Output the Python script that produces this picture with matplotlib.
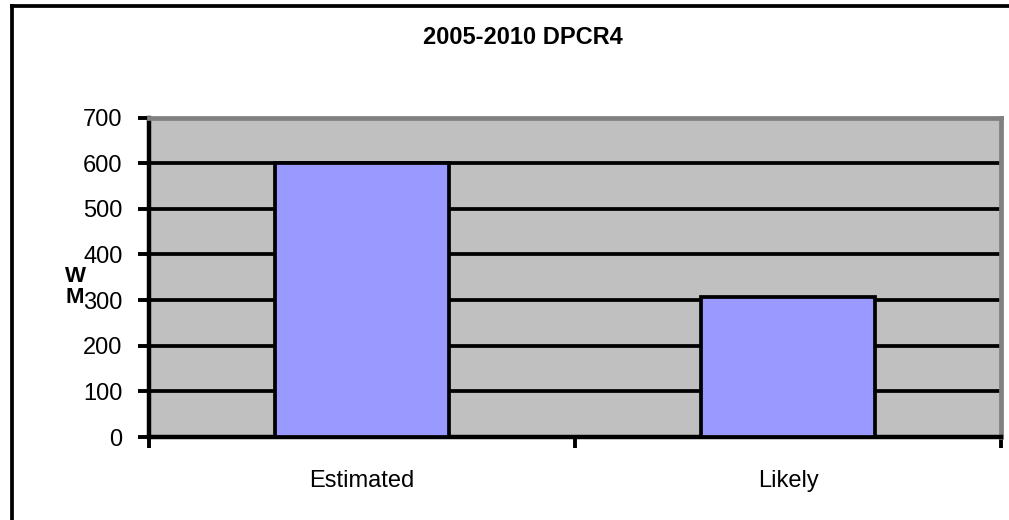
import matplotlib.pyplot as plt
from matplotlib.lines import Line2D

# chart data
categories = ['Estimated', 'Likely']
mw_values = [600, 307]
y_ticks = [0, 100, 200, 300, 400, 500, 600, 700]

plt.rcParams['font.family'] = ['Liberation Sans', 'DejaVu Sans']

fig = plt.figure(figsize=(10.09, 5.2), dpi=100)
ax = fig.add_axes([149 / 1009, 1 - 437 / 520, (1001 - 149) / 1009, (437 - 117.5) / 520])

# gray plot area, black gridlines behind the bars
ax.set_facecolor('#C0C0C0')
ax.set_axisbelow(True)
ax.grid(axis='y', color='black', linewidth=2.7)

x = list(range(len(categories)))
ax.bar(x, mw_values, width=0.41, color='#9999FF', edgecolor='black', linewidth=2.7, zorder=3)

ax.set_xlim(-0.5, len(categories) - 0.5)
ax.set_ylim(0, 700)
ax.set_yticks(y_ticks)
ax.set_xticks(x)
ax.set_xticklabels(categories)

# excel style tick marks at category boundaries
ax.set_xticks([i - 0.5 for i in range(len(categories) + 1)], minor=True)
ax.tick_params(axis='x', which='major', length=0, pad=24, labelsize=17)
ax.tick_params(axis='x', which='minor', length=8, width=2.8, direction='out', color='black')
ax.tick_params(axis='y', length=8, width=2.8, direction='out', pad=11, labelsize=17)

for side in ['left', 'bottom']:
    ax.spines[side].set_linewidth(3.2)
    ax.spines[side].set_color('black')
for side in ['top', 'right']:
    ax.spines[side].set_linewidth(3.4)
    ax.spines[side].set_color('#808080')

fig.text(523 / 1009, 1 - 37 / 520, '2005-2010 DPCR4', ha='center', va='center',
         fontsize=17, fontweight='bold')
fig.text(75 / 1009, 1 - 287 / 520, 'W\nM', ha='center', va='center',
         fontsize=16, fontweight='bold', linespacing=1.05)

# outer chart border (cut off at right and bottom)
fig.add_artist(Line2D([12 / 1009, 12 / 1009], [-0.05, 1 - 6 / 520], color='black',
                      linewidth=2.7, transform=fig.transFigure))
fig.add_artist(Line2D([12 / 1009, 1.05], [1 - 6 / 520, 1 - 6 / 520], color='black',
                      linewidth=2.7, transform=fig.transFigure))

fig.savefig('out.png', dpi=100)
